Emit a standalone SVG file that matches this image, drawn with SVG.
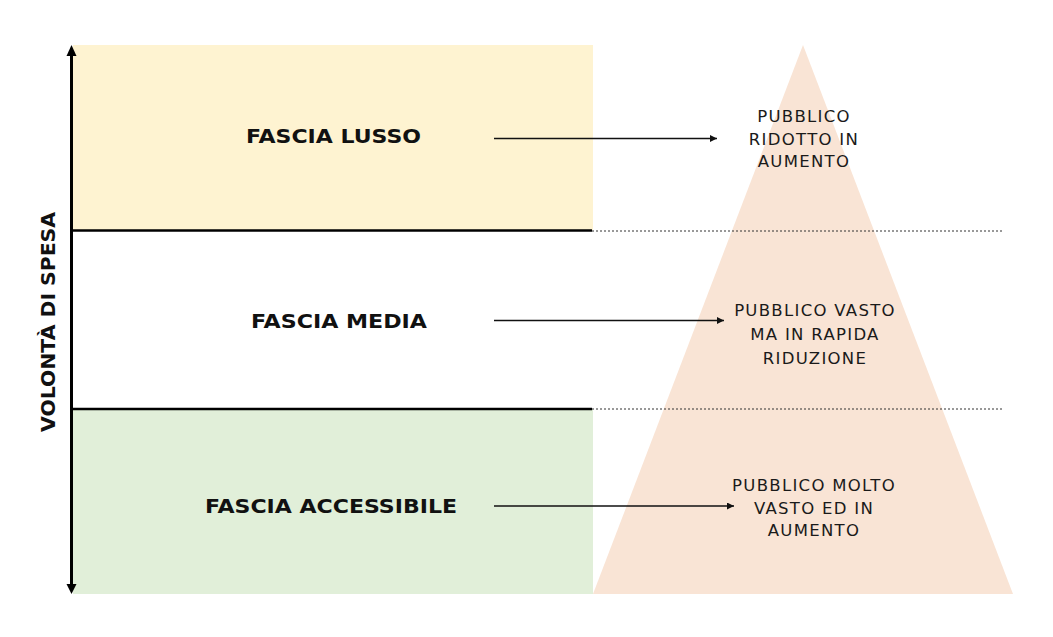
<svg xmlns="http://www.w3.org/2000/svg" width="1053" height="637" viewBox="0 0 1053 637">
<style>
.band{font-family:"DejaVu Sans","Liberation Sans",sans-serif;font-weight:bold;font-size:19.5px;fill:#111;}
.pub{font-family:"DejaVu Sans","Liberation Sans",sans-serif;font-size:16.5px;fill:#1a1a1a;letter-spacing:1.3px;text-anchor:middle;}
.conn{stroke:#111;stroke-width:1.5;fill:none;}
.dot{stroke:#333;stroke-width:1;stroke-dasharray:2 2;fill:none;}
.solid{stroke:#000;stroke-width:2.5;fill:none;}
</style>
<defs>
<marker id="ah" viewBox="0 0 10 10" refX="10" refY="5" markerWidth="7" markerHeight="7" markerUnits="userSpaceOnUse" orient="auto">
<path d="M0,0 L10,5 L0,10 Z" fill="#111"/>
</marker>
</defs>
<rect width="1053" height="637" fill="#fff"/>
<g id="band-lusso">
<rect x="73" y="45" width="520" height="185" fill="#FEF3D1"/>
<text class="band" x="246" y="142.5" textLength="175" lengthAdjust="spacingAndGlyphs">FASCIA LUSSO</text>
</g>
<g id="band-media">
<text class="band" x="251" y="327.5" textLength="176" lengthAdjust="spacingAndGlyphs">FASCIA MEDIA</text>
</g>
<g id="band-accessibile">
<rect x="73" y="409" width="520" height="185" fill="#E1EFD9"/>
<text class="band" x="205" y="512.5" textLength="252" lengthAdjust="spacingAndGlyphs">FASCIA ACCESSIBILE</text>
</g>
<g id="pyramid">
<polygon points="803,45 1013,594 593,594" fill="#F9E4D5"/>
</g>
<g id="separators">
<line class="dot" x1="592" y1="231" x2="1003" y2="231"/>
<line class="dot" x1="592" y1="409" x2="1002" y2="409"/>
<line class="solid" x1="71" y1="230.5" x2="592" y2="230.5"/>
<line class="solid" x1="71" y1="409" x2="592" y2="409"/>
</g>
<g id="axis">
<line x1="71.5" y1="54" x2="71.5" y2="586" stroke="#000" stroke-width="3"/>
<path d="M71.5,45 L76.5,56 L66.5,56 Z" fill="#000"/>
<path d="M71.5,594 L76.5,584 L66.5,584 Z" fill="#000"/>
<text class="band" transform="translate(54.5,432) rotate(-90)" x="0" y="0" textLength="220" lengthAdjust="spacingAndGlyphs">VOLONTÀ DI SPESA</text>
</g>
<g id="pub-lusso">
<text class="pub" x="804" y="122">PUBBLICO</text>
<text class="pub" x="804" y="144.5">RIDOTTO IN</text>
<text class="pub" x="804" y="166.5">AUMENTO</text>
</g>
<g id="pub-media">
<text class="pub" x="815" y="316">PUBBLICO VASTO</text>
<text class="pub" x="815" y="340">MA IN RAPIDA</text>
<text class="pub" x="815" y="364">RIDUZIONE</text>
</g>
<g id="pub-accessibile">
<text class="pub" x="814" y="491">PUBBLICO MOLTO</text>
<text class="pub" x="814" y="514">VASTO ED IN</text>
<text class="pub" x="814" y="536">AUMENTO</text>
</g>
<g id="connectors">
<line class="conn" x1="494" y1="138.5" x2="717" y2="138.5" marker-end="url(#ah)"/>
<line class="conn" x1="494" y1="320.5" x2="724" y2="320.5" marker-end="url(#ah)"/>
<line class="conn" x1="494" y1="506" x2="734" y2="506" marker-end="url(#ah)"/>
</g>
</svg>
